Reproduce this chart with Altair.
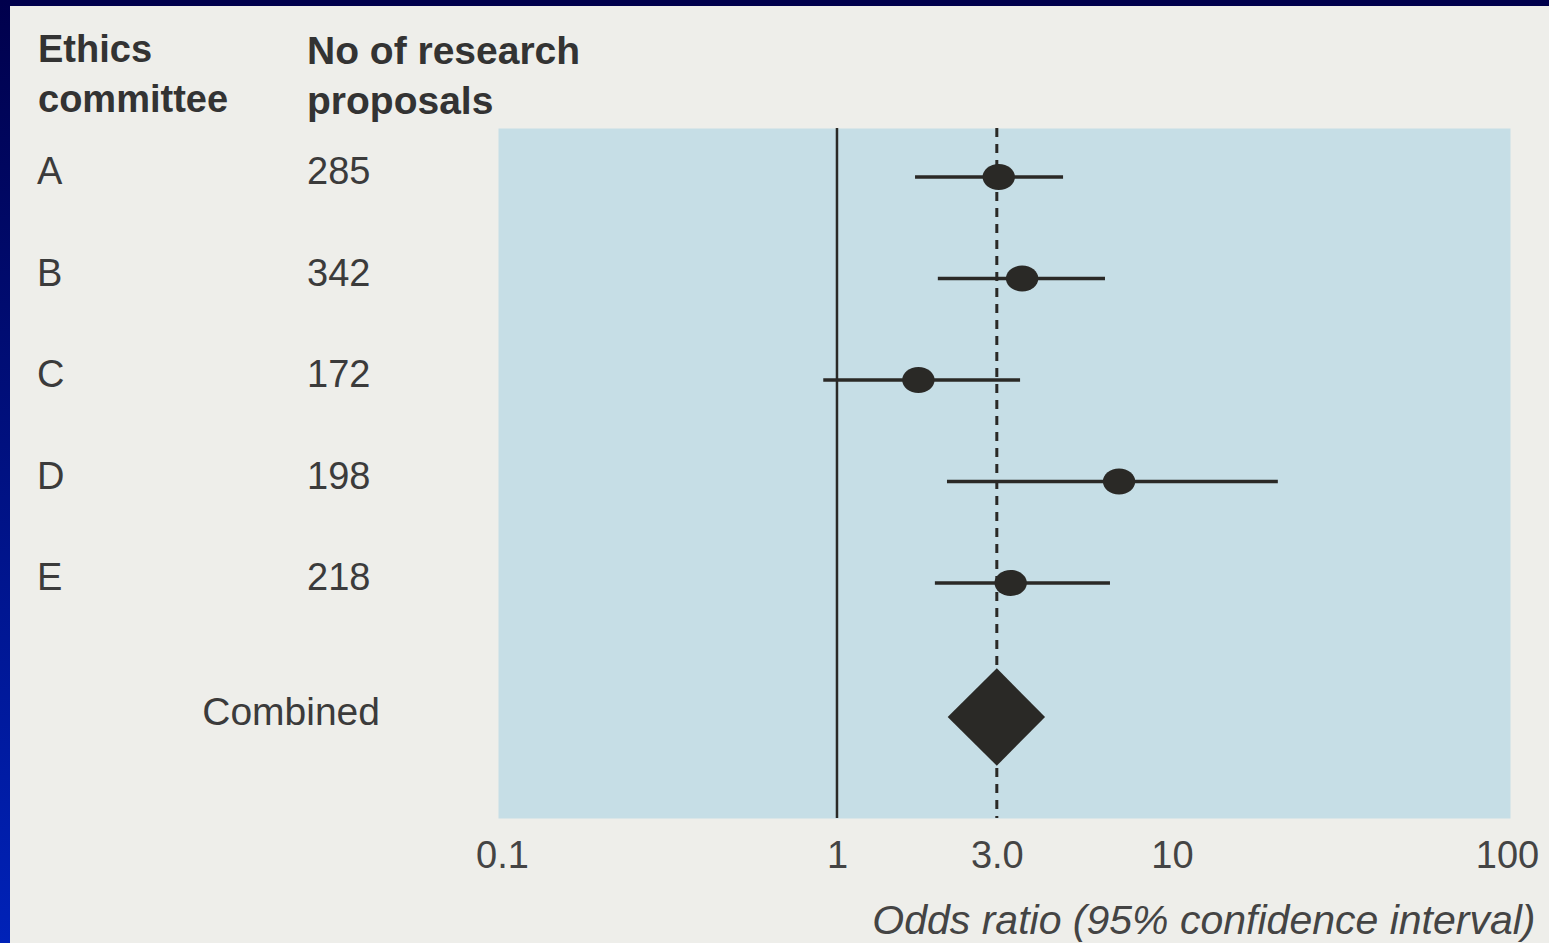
import altair as alt
import pandas as pd

# Per-committee results
committees = ["A", "B", "C", "D", "E"]
proposals = [285, 342, 172, 198, 218]
odds_ratio = [3.04, 3.57, 1.75, 6.95, 3.30]
ci_lower = [1.71, 2.00, 0.91, 2.13, 1.96]
ci_upper = [4.73, 6.31, 3.52, 20.7, 6.53]

# Pooled estimate
combined_label = "Combined"
combined_or = 3.0
combined_lower = 2.14
combined_upper = 4.18

# Reference line and axis text
null_value = 1
x_ticks = [0.1, 1, 3, 10, 100]
headers = ["Ethics\ncommittee", "No of research\nproposals"]
x_title = "Odds ratio (95% confidence interval)"

# Layout
PLOT_W, PLOT_H = 1012, 690
PAD = {"left": 498, "top": 128, "right": 39, "bottom": 125}
COMBINED_ROW = 5.32
DIAMOND_HALF = 0.48
INK = "#2a2926"
TEXT = "#3b3b3b"
FONT = "Liberation Sans"

rows = pd.DataFrame({
    "committee": committees,
    "proposals": [str(p) for p in proposals],
    "or": odds_ratio,
    "lo": ci_lower,
    "hi": ci_upper,
    "row": list(range(len(committees))),
})
diamond = pd.DataFrame({
    "x": [combined_lower, combined_or, combined_upper],
    "top": [COMBINED_ROW, COMBINED_ROW - DIAMOND_HALF, COMBINED_ROW],
    "bottom": [COMBINED_ROW, COMBINED_ROW + DIAMOND_HALF, COMBINED_ROW],
})
combined_row = pd.DataFrame({"label": [combined_label], "row": [COMBINED_ROW], "or": [combined_or]})
null_df = pd.DataFrame({"or": [null_value]})
header_df = pd.DataFrame({"text": headers})
one = pd.DataFrame({"k": [0]})

xs = alt.Scale(type="log", domain=[0.0973, 102.1], nice=False)
ys = alt.Scale(domain=[-0.483, 6.315], reverse=True, nice=False, zero=False)

x_axis = alt.Axis(
    values=x_ticks,
    labelExpr="datum.value == 3 ? '3.0' : format(datum.value, '~g')",
    title=x_title,
    grid=False, ticks=False, domain=False,
    labelFontSize=38, labelColor="#444444", labelPadding=19,
    labelFlush=False, labelOverlap=False, labelFont=FONT,
    titleFont=FONT, titleFontSize=41, titleFontStyle="italic",
    titleFontWeight="normal", titleColor="#444444",
    titleAnchor="end", titleAlign="right", titleX=1037, titleY=115,
    titleBaseline="alphabetic",
)


def xq(field):
    return alt.X(field, type="quantitative", scale=xs, axis=x_axis)


def yq(field):
    return alt.Y(field, type="quantitative", scale=ys, axis=None)


# Dark frame: top strip and left strip with a gradient
frame_top = alt.Chart(one).mark_rect(color="#00004c").encode(
    x=alt.value(-PAD["left"]), x2=alt.value(PLOT_W + PAD["right"]),
    y=alt.value(-PAD["top"]), y2=alt.value(-PAD["top"] + 6),
)
frame_left = alt.Chart(one).mark_rect(
    color=alt.LinearGradient(
        gradient="linear",
        stops=[alt.GradientStop(color="#00004c", offset=0),
               alt.GradientStop(color="#0022b8", offset=1)],
        x1=0, x2=0, y1=0, y2=1,
    )
).encode(
    x=alt.value(-PAD["left"]), x2=alt.value(-PAD["left"] + 10),
    y=alt.value(-PAD["top"]), y2=alt.value(PLOT_H + PAD["bottom"]),
)

null_rule = alt.Chart(null_df).mark_rule(color=INK, strokeWidth=2.5).encode(x=xq("or"))
pooled_rule = alt.Chart(combined_row).mark_rule(
    color=INK, strokeWidth=3, strokeDash=[9, 7]
).encode(x=xq("or"))

ci_bars = alt.Chart(rows).mark_rule(color=INK, strokeWidth=3.5).encode(
    x=xq("lo"), x2="hi", y=yq("row")
)
points = alt.Chart(rows).mark_point(
    shape="M-1,0A1,0.8,0,1,0,1,0A1,0.8,0,1,0,-1,0Z",
    filled=True, size=1050, color=INK, opacity=1,
).encode(x=xq("or"), y=yq("row"))

pooled = alt.Chart(diamond).mark_area(color=INK, opacity=1).encode(
    x=xq("x"), y=alt.Y("top:Q", scale=ys, axis=None, stack=None), y2="bottom:Q"
)

letters = alt.Chart(rows).mark_text(
    align="left", baseline="middle", dy=-4, fontSize=38, color=TEXT, font=FONT
).encode(x=alt.value(-461), y=yq("row"), text="committee:N")
counts = alt.Chart(rows).mark_text(
    align="left", baseline="middle", dy=-4, fontSize=38, color=TEXT, font=FONT
).encode(x=alt.value(-191), y=yq("row"), text="proposals:N")
combined_text = alt.Chart(combined_row).mark_text(
    align="right", baseline="middle", dy=-4, fontSize=39, color=TEXT, font=FONT
).encode(x=alt.value(-118), y=yq("row"), text="label:N")

header_ethics = alt.Chart(header_df.iloc[[0]]).mark_text(
    align="left", baseline="alphabetic", fontSize=38, fontWeight="bold",
    color="#333333", font=FONT, lineBreak="\n", lineHeight=50,
).encode(x=alt.value(-460), y=alt.value(-66), text="text:N")
header_count = alt.Chart(header_df.iloc[[1]]).mark_text(
    align="left", baseline="alphabetic", fontSize=39, fontWeight="bold",
    color="#333333", font=FONT, lineBreak="\n", lineHeight=50,
).encode(x=alt.value(-191), y=alt.value(-64), text="text:N")

chart = alt.layer(
    frame_top, frame_left,
    null_rule, ci_bars, pooled_rule, points, pooled,
    letters, counts, combined_text, header_ethics, header_count,
).properties(
    width=PLOT_W, height=PLOT_H,
    padding=PAD,
    autosize=alt.AutoSizeParams(type="none"),
    background="#eeeeea",
).configure(
    font=FONT
).configure_view(
    fill="#c6dee6", stroke="transparent"
)

chart.save("out.html", embed_options={"renderer": "svg", "actions": False})
